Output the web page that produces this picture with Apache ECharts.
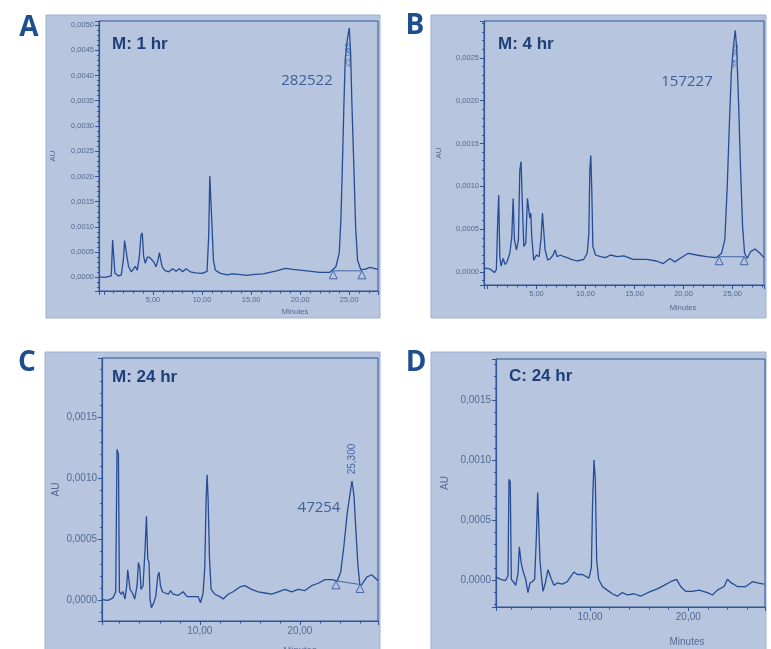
<!DOCTYPE html>
<html>
<head>
<meta charset="utf-8">
<script src="https://cdn.jsdelivr.net/npm/echarts@6/dist/echarts.min.js"></script>
<style>
  html, body { margin: 0; padding: 0; background: #fff; }
  #chart_container { width: 771px; height: 649px; }
</style>
</head>
<body>
<div id="chart_container"></div>
<script>
// chromatogram traces, [minutes, AU]
const traceA = [
  [-0.5, 0.00001], [0.14, 0], [0.75, 0.00003], [0.89, 0.00074], [1.02, 0.00074], [1.12, 0.00008], [1.5, 0.00003],
  [1.77, 0.00005], [1.98, 0.00034], [2.11, 0.00073], [2.25, 0.00071], [2.35, 0.00041], [2.52, 0.00021], [2.79, 0.00011],
  [2.99, 0.00014], [3.2, 0.00022], [3.4, 0.00014], [3.61, 0.00041], [3.78, 0.00084], [3.91, 0.00088], [4.05, 0.00041],
  [4.22, 0.00028], [4.42, 0.0004], [4.63, 0.0004], [4.83, 0.00036], [5.07, 0.00031], [5.31, 0.00021], [5.51, 0.00034],
  [5.65, 0.00049], [5.79, 0.00047], [5.92, 0.00022], [6.19, 0.00014], [6.6, 0.00011], [7.01, 0.00017], [7.35, 0.00012],
  [7.69, 0.00017], [8.03, 0.00011], [8.37, 0.00017], [8.81, 0.00011], [9.32, 0.00009], [10.0, 0.00008], [10.51, 0.00012],
  [10.68, 0.00084], [10.79, 0.00201], [10.92, 0.00201], [11.02, 0.001], [11.16, 0.00034], [11.36, 0.00014], [11.87, 0.00008],
  [12.55, 0.00005], [13.06, 0.00007], [13.74, 0.00006], [14.53, 0.00004], [15.4, 0.00006], [16.23, 0.00007], [17.59, 0.00013],
  [18.44, 0.00018], [19.29, 0.00016], [20.65, 0.00013], [22.0, 0.0001], [23.03, 0.0001], [23.64, 0.00021], [23.98, 0.00048],
  [24.15, 0.00114], [24.29, 0.00213], [24.46, 0.00345], [24.59, 0.00431], [24.8, 0.00471], [25.0, 0.00494], [25.14, 0.00444],
  [25.27, 0.00345], [25.48, 0.00213], [25.65, 0.001], [25.85, 0.00034], [26.16, 0.00016], [26.6, 0.00016], [27.1, 0.0002],
  [27.93, 0.00016]
]
const traceB = [
  [-0.35, 0.00005], [0.3, 0.000035], [0.71, -0.000005], [0.91, 0.00003], [1.05, 0.00061], [1.15, 0.0009], [1.26, 0.00018],
  [1.39, 0.00007], [1.6, 0.00016], [1.8, 0.00009], [2.0, 0.00012], [2.28, 0.00022], [2.48, 0.00041], [2.62, 0.00086],
  [2.75, 0.00038], [2.96, 0.00026], [3.16, 0.00038], [3.3, 0.00119], [3.43, 0.00129], [3.57, 0.00076], [3.71, 0.0003],
  [3.91, 0.00034], [4.08, 0.00086], [4.21, 0.00084], [4.32, 0.00063], [4.42, 0.00069], [4.52, 0.00041], [4.72, 0.00014],
  [5.0, 0.0002], [5.27, 0.00018], [5.47, 0.0004], [5.61, 0.00069], [5.74, 0.00069], [5.88, 0.00026], [6.15, 0.00014],
  [6.43, 0.00016], [6.7, 0.0002], [6.9, 0.00026], [7.11, 0.00018], [7.45, 0.0002], [7.79, 0.00018], [8.13, 0.00017],
  [8.54, 0.00015], [9.15, 0.00013], [9.83, 0.00015], [10.17, 0.00022], [10.34, 0.00045], [10.44, 0.00119], [10.54, 0.00136],
  [10.64, 0.00096], [10.75, 0.0003], [11.02, 0.0002], [11.53, 0.00018], [12.04, 0.00017], [12.55, 0.0002], [13.23, 0.00018],
  [13.91, 0.00019], [14.86, 0.00015], [16.22, 0.00015], [17.24, 0.00013], [17.92, 0.0001], [18.6, 0.00016], [19.11, 0.00012],
  [19.79, 0.00017], [20.47, 0.00022], [21.32, 0.0002], [22.34, 0.00018], [23.36, 0.00017], [23.87, 0.00022], [24.21, 0.00038],
  [24.45, 0.001], [24.66, 0.00169], [24.86, 0.00231], [25.07, 0.00262], [25.27, 0.00282], [25.41, 0.00262], [25.61, 0.00197],
  [25.81, 0.00119], [26.02, 0.00053], [26.22, 0.00022], [26.49, 0.00016], [26.84, 0.00024], [27.28, 0.00027], [27.79, 0.00022],
  [28.2, 0.00017]
]
const traceC = [
  [0.23, 0.000006], [0.83, 0], [1.33, 0.00002], [1.6, 0.00007], [1.73, 0.00124], [1.87, 0.0012], [1.97, 0.00007],
  [2.13, 0.00005], [2.33, 0.00007], [2.53, 0.00001], [2.7, 0.00012], [2.8, 0.00025], [2.9, 0.00025], [3.03, 0.00009],
  [3.27, 0.00006], [3.5, 0.00001], [3.73, 0.00012], [3.87, 0.00031], [4.0, 0.00027], [4.13, 0.00009], [4.33, 0.00012],
  [4.53, 0.00042], [4.67, 0.00069], [4.8, 0.00034], [4.93, 0.00031], [5.03, 0.000006], [5.17, -0.00006], [5.4, -0.00002],
  [5.6, 0.00003], [5.8, 0.0002], [5.93, 0.00023], [6.07, 0.00012], [6.27, 0.00007], [6.53, 0.00006], [6.87, 0.00005],
  [7.07, 0.00008], [7.33, 0.00005], [7.83, 0.00004], [8.33, 0.00007], [8.73, 0.00003], [9.33, 0.00003], [9.83, 0.00003],
  [10.07, -0.00002], [10.33, 0.00006], [10.5, 0.00028], [10.63, 0.00083], [10.73, 0.00103], [10.83, 0.00083], [10.97, 0.00034],
  [11.13, 0.00009], [11.5, 0.00005], [12.0, 0.00003], [12.33, 0.00001], [12.83, 0.00005], [13.33, 0.00007], [14.0, 0.00011],
  [14.5, 0.00012], [15.17, 0.00009], [15.83, 0.00007], [16.5, 0.00006], [17.17, 0.00005], [17.83, 0.00007], [18.5, 0.00009],
  [19.17, 0.00007], [19.83, 0.00009], [20.5, 0.00008], [21.17, 0.00012], [21.83, 0.00014], [22.5, 0.00017], [23.17, 0.00017],
  [23.73, 0.00016], [24.07, 0.00023], [24.4, 0.00045], [24.73, 0.00072], [25.0, 0.00087], [25.2, 0.00098], [25.4, 0.00086],
  [25.6, 0.00056], [25.8, 0.00028], [26.0, 0.00012], [26.2, 0.00013], [26.67, 0.00019], [27.17, 0.00021], [27.8, 0.00016]
]
const traceD = [
  [0.44, 0.00003], [0.91, 0.00001], [1.42, 0], [1.66, 0.00004], [1.76, 0.00084], [1.89, 0.00082], [2.0, 0.00001],
  [2.2, -0.00001], [2.44, -0.00004], [2.68, 0.00006], [2.81, 0.00028], [2.91, 0.00029], [3.01, 0.00014], [3.22, 0.00007],
  [3.46, 0.00001], [3.69, -0.0001], [3.9, -0.00002], [4.13, -0.00001], [4.37, 0.00001], [4.54, 0.00035], [4.68, 0.00073],
  [4.81, 0.00073], [4.91, 0.00017], [5.05, 0.00004], [5.22, -0.00009], [5.46, -0.00002], [5.73, 0.00009], [5.86, 0.00009],
  [6.07, 0.00001], [6.34, -0.00004], [6.68, -0.00002], [7.18, -0.00003], [7.69, -0.00001], [8.1, 0.00004], [8.37, 0.00007],
  [8.71, 0.00005], [9.22, 0.00005], [9.9, 0.00002], [10.14, 0.00011], [10.27, 0.00067], [10.41, 0.001], [10.54, 0.00084],
  [10.68, 0.00017], [10.88, 0.00001], [11.26, -0.00005], [11.76, -0.00008], [12.27, -0.00011], [12.78, -0.00013], [13.29, -0.0001],
  [13.8, -0.00012], [14.48, -0.00011], [15.15, -0.00013], [15.66, -0.00011], [16.17, -0.00009], [16.85, -0.00007], [17.53, -0.00004],
  [18.2, -0.00001], [18.81, 0.00001], [19.22, -0.00005], [19.73, -0.00009], [20.41, -0.00009], [21.09, -0.00008], [21.94, -0.0001],
  [22.45, -0.00012], [22.96, -0.00008], [23.64, -0.00005], [23.98, 0.00001], [24.38, -0.00002], [24.99, -0.00005], [25.84, -0.00005],
  [26.52, -0.00001], [27.03, -0.00002], [27.7, -0.00003]
]
// integration baselines (start / end of the main peak)
const baseA = [[23.37, 0.00013], [26.3, 0.00013]]
const baseB = [[23.63, 0.00018], [26.18, 0.00018]]
const baseC = [[23.6, 0.00016], [26.0, 0.00013]]

const panelTitles = ['M: 1 hr', 'M: 4 hr', 'M: 24 hr', 'C: 24 hr']
const panelLetters = ['A', 'B', 'C', 'D']
const peakAreas = ['282522', '157227', '47254']
const peakTimes = ['25,083', '25,265', '25,300']

const PANEL_BG = '#b7c5de'
const LINE = '#254d96'
const THIN = '#4467a8'
const LABEL = '#566a92'
const AXIS = '#2d5597'

function fmtY(v) {
  if (Math.abs(v / 0.0005 - Math.round(v / 0.0005)) > 1e-6) return ''
  return v.toFixed(4).replace('.', ',')
}
function fmtX(v) {
  if (v <= 0.001) return ''
  if (Math.abs(v / 5 - Math.round(v / 5)) > 1e-6) return ''
  return v.toFixed(2).replace('.', ',')
}

// grid boxes and axis settings per panel
const panels = [
  { grid: { left: 99, top: 21, width: 279, height: 270 }, x: [-0.5, 27.93], xSplit: 5, y: [-0.00027, 0.00508], ySplit: 10, fs: 7.5, nameGap: 42, nameFs: 8 },
  { grid: { left: 484, top: 21, width: 280, height: 264 }, x: [-0.35, 28.2], xSplit: 5, y: [-0.00015, 0.00293], ySplit: 6, fs: 7.5, nameGap: 41, nameFs: 8 },
  { grid: { left: 102, top: 358, width: 276, height: 263 }, x: [0.23, 27.8], xSplit: 3, y: [-0.00017, 0.00199], ySplit: 4, fs: 10, nameGap: 41, nameFs: 10 },
  { grid: { left: 496, top: 359, width: 269, height: 248 }, x: [0.44, 27.8], xSplit: 3, y: [-0.00022, 0.00184], ySplit: 4, fs: 10, nameGap: 46, nameFs: 10 },
]

let grid = [], xAxis = [], yAxis = [], series = []
panels.forEach((p, i) => {
  grid.push(Object.assign({ show: true, borderColor: AXIS, borderWidth: 1, backgroundColor: 'transparent', containLabel: false, outerBoundsMode: 'none' }, p.grid))
  xAxis.push({
    type: 'value', gridIndex: i, min: p.x[0], max: p.x[1], splitNumber: p.xSplit,
    axisLine: { show: true, onZero: false, lineStyle: { color: AXIS, width: 1.2 } },
    axisTick: { show: true, length: 4, lineStyle: { color: AXIS } },
    minorTick: { show: true, splitNumber: 5, length: 2.5, lineStyle: { color: AXIS } },
    splitLine: { show: false },
    axisLabel: { fontSize: p.fs, color: LABEL, margin: 5, showMinLabel: false, showMaxLabel: false, fontFamily: 'Liberation Sans', formatter: fmtX },
  })
  yAxis.push({
    type: 'value', gridIndex: i, min: p.y[0], max: p.y[1], splitNumber: p.ySplit,
    name: 'AU', nameLocation: 'middle', nameRotate: 90, nameGap: p.nameGap,
    nameTextStyle: { fontSize: p.nameFs, color: LABEL, fontFamily: 'Liberation Sans' },
    axisLine: { show: true, onZero: false, lineStyle: { color: AXIS, width: 1.2 } },
    axisTick: { show: true, length: 4, lineStyle: { color: AXIS } },
    minorTick: { show: true, splitNumber: 5, length: 2, lineStyle: { color: AXIS } },
    splitLine: { show: false },
    axisLabel: { fontSize: p.fs, color: LABEL, margin: 5, showMinLabel: false, showMaxLabel: false, fontFamily: 'Liberation Sans', formatter: fmtY },
  })
})

;[traceA, traceB, traceC, traceD].forEach((d, i) => {
  series.push({
    type: 'line', xAxisIndex: i, yAxisIndex: i, data: d, showSymbol: false, smooth: false,
    lineStyle: { color: LINE, width: 1.3 }, z: 3,
  })
})
;[baseA, baseB, baseC].forEach((d, i) => {
  series.push({
    type: 'line', xAxisIndex: i, yAxisIndex: i, data: d, showSymbol: true,
    symbol: 'triangle', symbolSize: 8, symbolOffset: [0, 4],
    itemStyle: { color: PANEL_BG, borderColor: THIN, borderWidth: 1 },
    lineStyle: { color: THIN, width: 1 }, z: 4,
  })
})

// panel boxes, letters and notes
const boxes = [[46, 15, 334, 303], [431, 15, 335, 303], [45, 352, 335, 310], [431, 352, 335, 310]]
const letterPos = [[29, 28], [415, 26], [27, 363], [416, 363]]
const titlePos = [[112, 44], [498, 44], [112, 377], [509, 376]]
const areaPos = [[307, 81], [687, 82], [319, 508]]
const timePos = [[348, 55, 8], [736, 56, 8], [352, 459, 10]]
const minutesPos = [[295, 312, 7.5], [683, 308, 7.5], [300, 650, 9.5], [687, 642, 10]]

let graphic = []
boxes.forEach(b => graphic.push({
  type: 'rect', z: -10, shape: { x: b[0], y: b[1], width: b[2], height: b[3] },
  style: { fill: PANEL_BG, stroke: '#9cb0d2', lineWidth: 1 },
}))
panelLetters.forEach((t, i) => graphic.push({
  type: 'text', z: 100, x: letterPos[i][0], y: letterPos[i][1],
  style: { text: t, fontSize: 28, fontWeight: 'bold', fontFamily: 'Open Sans', fill: '#1d4e8e', align: 'center', verticalAlign: 'middle' },
}))
panelTitles.forEach((t, i) => graphic.push({
  type: 'text', z: 100, x: titlePos[i][0], y: titlePos[i][1],
  style: { text: t, fontSize: 17, fontWeight: 'bold', fontFamily: 'Liberation Sans', fill: '#1f3f7a', align: 'left', verticalAlign: 'middle' },
}))
peakAreas.forEach((t, i) => graphic.push({
  type: 'text', z: 100, x: areaPos[i][0], y: areaPos[i][1],
  style: { text: t, fontSize: 15, fontFamily: 'Open Sans', fill: '#3f5f96', align: 'center', verticalAlign: 'middle' },
}))
peakTimes.forEach((t, i) => graphic.push({
  type: 'text', z: 100, x: timePos[i][0], y: timePos[i][1], rotation: Math.PI / 2,
  style: { text: t, fontSize: timePos[i][2], fontFamily: 'Liberation Sans', fill: THIN, align: 'center', verticalAlign: 'middle' },
}))
minutesPos.forEach(m => graphic.push({
  type: 'text', z: 100, x: m[0], y: m[1],
  style: { text: 'Minutes', fontSize: m[2], fontFamily: 'Liberation Sans', fill: LABEL, align: 'center', verticalAlign: 'middle' },
}))

const chartPlot = echarts.init(document.getElementById('chart_container'))
chartPlot.setOption({
  animation: false,
  backgroundColor: '#ffffff',
  grid, xAxis, yAxis, series, graphic,
})
</script>
</body>
</html>
